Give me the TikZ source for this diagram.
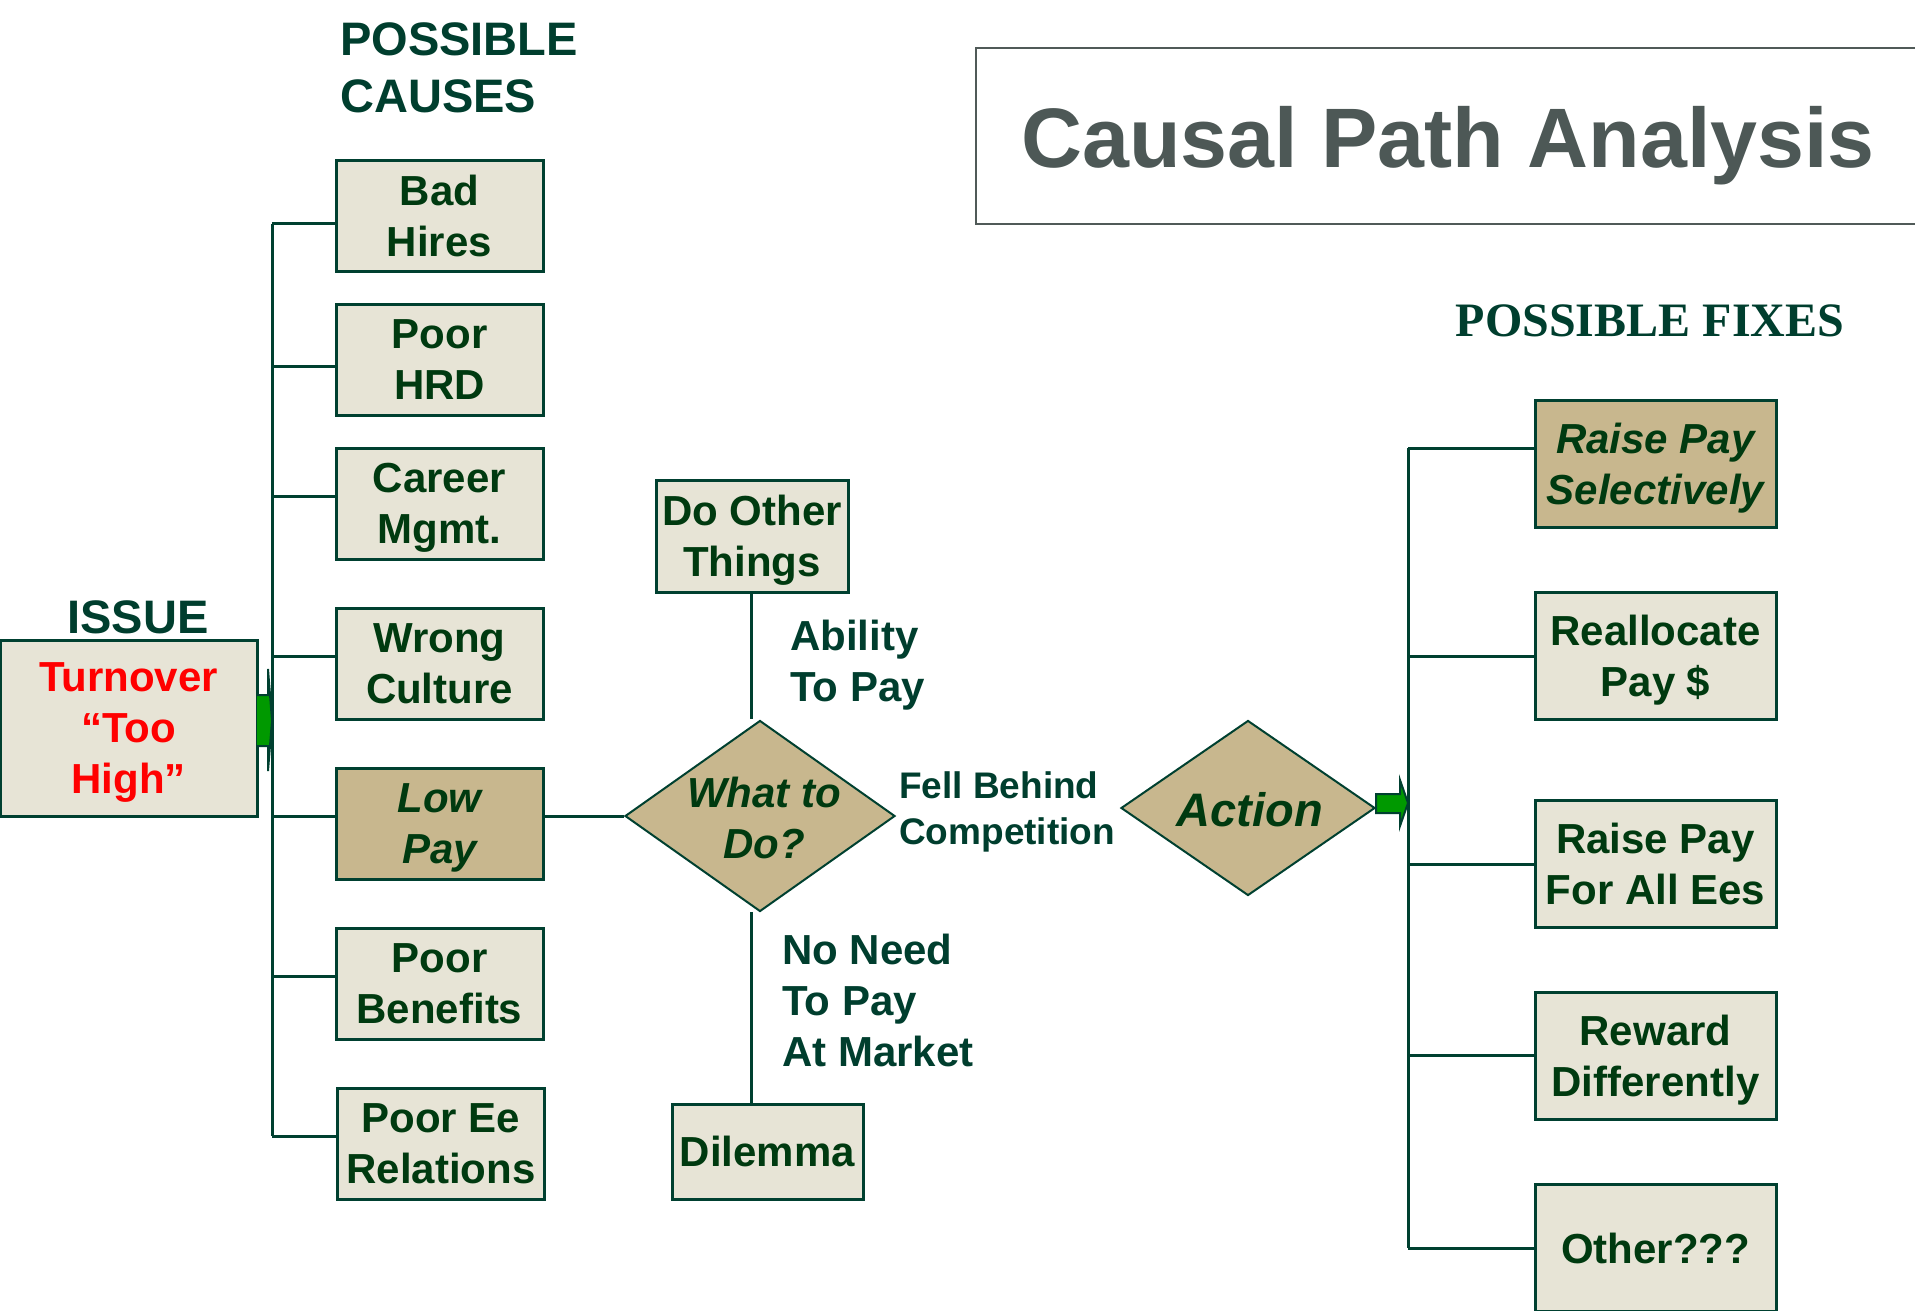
\documentclass[tikz,border=0pt]{standalone}
\usepackage{fontspec}
\setmainfont{Liberation Sans}
\newfontfamily\seriffam{Liberation Serif}
\usetikzlibrary{shapes.geometric}
\definecolor{cline}{RGB}{0,64,48}
\definecolor{chead}{RGB}{0,62,46}
\definecolor{ctxt}{RGB}{0,58,16}
\definecolor{cfill}{RGB}{231,228,214}
\definecolor{ctan}{RGB}{200,183,142}
\definecolor{cgreen}{RGB}{0,153,0}
\definecolor{cgrey}{RGB}{80,90,88}
\definecolor{ctitle}{RGB}{77,88,86}
\newcommand{\myfs}[2]{\fontsize{#1}{#2}\selectfont}
\begin{document}
\begin{tikzpicture}[x=1pt,y=-1pt,
  conn/.style={draw=cline, line width=3pt},
  box/.style={draw=cline, line width=3pt, fill=cfill, inner sep=0pt, align=center,
    font=\bfseries\myfs{42}{51}, text=ctxt, text depth=-8pt},
  causebox/.style={box, minimum width=207pt, minimum height=111pt},
  fixbox/.style={box, minimum width=241pt, minimum height=127pt},
  tanfill/.style={fill=ctan, font=\bfseries\itshape\myfs{42}{51}},
  dia/.style={diamond, draw=cline, line width=2pt, fill=ctan, inner sep=0pt},
  ditext/.style={font=\bfseries\itshape\myfs{42}{51}, text=ctxt, align=center, inner sep=0pt},
  lbl/.style={font=\bfseries\myfs{42}{51}, text=chead, align=left, inner sep=0pt},
  head/.style={font=\bfseries\myfs{47}{57}, text=chead, align=left, inner sep=0pt},
  garrow/.style={draw=cline, line width=2pt, fill=cgreen, line join=miter}]
\useasboundingbox (0,0) rectangle (1915,1310);

% title
\draw[draw=cgrey, line width=2pt] (976,48) rectangle (1935,223.5);
\node[anchor=base west, inner sep=0pt, font=\bfseries\myfs{84.4}{100}, text=ctitle] (title) at (1021,167) {Causal Path Analysis};

% headings
\node[head, anchor=west] (pcauses) at (340,68) {POSSIBLE\\CAUSES};
\node[head, anchor=center, align=center] (issuelbl) at (138,617) {ISSUE};
\node[anchor=center, inner sep=0pt, font=\seriffam\bfseries\myfs{48}{57}, text=chead] (pfixes) at (1650,321) {POSSIBLE FIXES};

% issue box
\node[box, minimum width=257pt, minimum height=176pt, text=red] (issue) at (128.5,728) {Turnover\\“Too\\High”};
\draw[garrow] (257,695) -- (268,695) -- (268,669) -- (272,720.5) -- (268,771) -- (268,746) -- (257,746);

% causes
\node[causebox] (c1) at (439.5,215.5) {Bad\\Hires};
\node[causebox] (c2) at (439.5,359.5) {Poor\\HRD};
\node[causebox] (c3) at (439.5,503.5) {Career\\Mgmt.};
\node[causebox] (c4) at (439.5,663.5) {Wrong\\Culture};
\node[causebox, tanfill] (c5) at (439.5,823.5) {Low\\Pay};
\node[causebox] (c6) at (439.5,983.5) {Poor\\Benefits};
\node[causebox] (c7) at (441,1143.5) {Poor Ee\\Relations};

\coordinate (s1) at (272,223.5);
\coordinate (s2) at (272,366);
\coordinate (s3) at (272,496);
\coordinate (s4) at (272,656);
\coordinate (s5) at (272,816);
\coordinate (s6) at (272,976);
\coordinate (s7) at (272,1136);
\draw[conn] (s1) -- (s7);
\foreach \i in {1,...,7} {\draw[conn] (s\i) -- (s\i -| c\i.west);}

% middle
\node[box, minimum width=192pt, minimum height=112pt] (other) at (752,536) {Do Other\\Things};
\node[dia, minimum width=270pt, minimum height=191pt] (what) at (760,816) {};
\node[ditext] (whattxt) at (764,818) {What to\\Do?};
\node[box, minimum width=191pt, minimum height=95pt] (dilemma) at (767.5,1151.5) {Dilemma};
\draw[conn] (what.west -| c5.east) -- (what.west);
\coordinate (v1) at (751,719);
\coordinate (v2) at (751,912);
\draw[conn] (other.south -| v1) -- (v1);
\draw[conn] (v2) -- (v2 |- dilemma.north);

\node[lbl, anchor=west] (ability) at (790,665) {Ability\\To Pay};
\node[lbl, anchor=west, font=\bfseries\myfs{37}{46}] (fell) at (899,812) {Fell Behind\\Competition};
\node[lbl, anchor=west] (noneed) at (782,1000) {No Need\\To Pay\\At Market};

% action
\node[dia, minimum width=254pt, minimum height=175pt] (action) at (1248,808) {};
\node[ditext, font=\bfseries\itshape\myfs{47}{56}] (actiontxt) at (1250,810) {Action};
\draw[garrow] (1376,794) -- (1400,794) -- (1400,780) -- (1408,803) -- (1400,826) -- (1400,813) -- (1376,813) -- cycle;

% fixes
\node[fixbox, tanfill] (f1b) at (1655.5,463.5) {Raise Pay\\Selectively};
\node[fixbox] (f2b) at (1655.5,655.5) {Reallocate\\Pay \$};
\node[fixbox] (f3b) at (1655.5,864) {Raise Pay\\For All Ees};
\node[fixbox] (f4b) at (1655.5,1056) {Reward\\Differently};
\node[fixbox] (f5b) at (1655.5,1248) {Other???};
\coordinate (r1) at (1408,448);
\coordinate (r2) at (1408,656);
\coordinate (r3) at (1408,864);
\coordinate (r4) at (1408,1055);
\coordinate (r5) at (1408,1248);
\draw[conn] (r1) -- (r5);
\foreach \i in {1,...,5} {\draw[conn] (r\i) -- (r\i -| f\i b.west);}
\end{tikzpicture}
\end{document}
